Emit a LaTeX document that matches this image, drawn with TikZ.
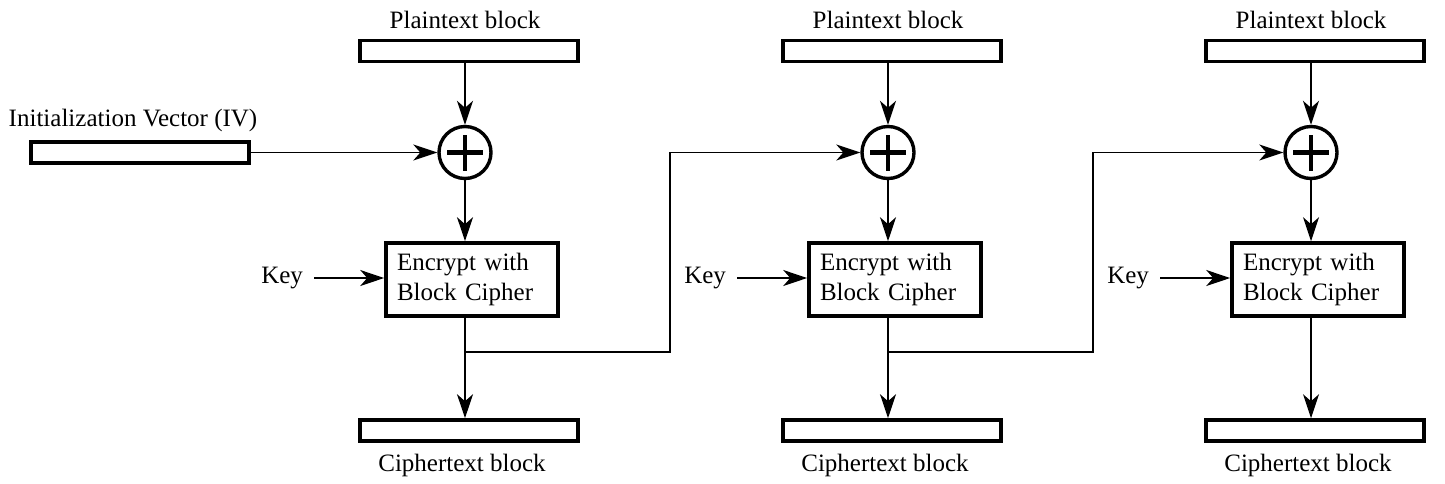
\documentclass[tikz,border=0pt]{standalone}
\usepackage{fontspec}
\setmainfont{Liberation Serif}
\usetikzlibrary{arrows.meta}
\usetikzlibrary{positioning}
\tikzset{flow/.style = {-{Stealth[length=12pt, width=8pt, inset=3.5pt]}, line width=0.7pt}}
\tikzset{blk/.style = {draw, line width=1.8pt, minimum width=109pt, minimum height=10.5pt, inner sep=0}}
\tikzset{xorop/.style = {draw, circle, line width=1.7pt, minimum size=26pt, inner sep=0,
                         path picture={\draw [line width=2.2pt]
                           ([xshift=-9pt] path picture bounding box.center) -- ++(18pt,0)
                           ([yshift=-9pt] path picture bounding box.center) -- ++(0,18pt);}}}
\tikzset{cipher/.style = {draw, line width=1.8pt, text width=75pt, align=left,
                          inner xsep=5.5pt, inner ysep=0, minimum height=36.5pt}}

\begin{document}
\begin{tikzpicture}[x=0.5pt, y=-0.5pt, font=\fontsize{12.5}{15}\selectfont]
  \useasboundingbox (0,0) rectangle (1445,483);
  \node [blk] (iv) at (140,152.5) {};
  \node (ivlabel) at (133,120) {Initialization Vector (IV)};
  \foreach \i/\cx in {1/465, 2/888, 3/1311} {
    \node (ptl\i) at (\cx,20) {Plaintext block};
    \node [blk] (pt\i) at (\cx+4,51) {};
    \node [xorop] (xor\i) at (\cx,152.5) {};
    \node [cipher] (enc\i) at (\cx+7,279.5) {Encrypt with\\Block Cipher};
    \coordinate (kin\i) at (\cx-151,278);
    \node (key\i) [left=2pt of kin\i] {Key};
    \node [blk] (ct\i) at (\cx+4,430.5) {};
    \node (ctl\i) at (\cx-3,465) {Ciphertext block};
    \draw [flow] (pt\i.south -| xor\i) -- (xor\i);
    \draw [flow] (xor\i) -- (xor\i |- enc\i.north);
    \draw [flow] (kin\i) -- (kin\i -| enc\i.west);
    \draw [flow] (xor\i |- enc\i.south) -- (xor\i |- ct\i.north);
  }
  \draw [flow] (iv.east) -- (xor1);
  % chaining of each ciphertext into the next stage
  \coordinate (j1) at (465,352);
  \coordinate (up2) at (670,152.5);
  \coordinate (j2) at (888,352);
  \coordinate (up3) at (1093,152.5);
  \draw [flow] (j1) -| (up2) -- (xor2);
  \draw [flow] (j2) -| (up3) -- (xor3);
\end{tikzpicture}
\end{document}
